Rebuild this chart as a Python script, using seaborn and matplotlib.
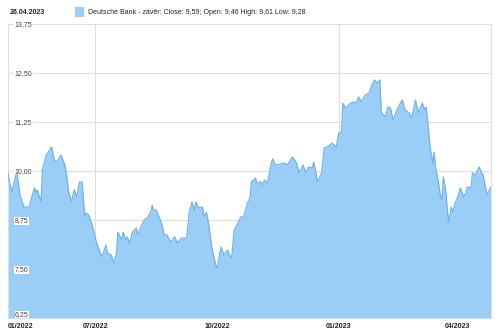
import matplotlib
matplotlib.use("Agg")
import matplotlib.pyplot as plt
import seaborn as sns
import pandas as pd

dates = [
    "2022-04-26", "2022-04-27", "2022-04-29", "2022-05-02", "2022-05-03", "2022-05-05", "2022-05-08",
    "2022-05-12", "2022-05-14", "2022-05-16", "2022-05-17", "2022-05-18", "2022-05-21", "2022-05-22",
    "2022-05-25", "2022-05-29", "2022-05-31", "2022-06-02", "2022-06-05", "2022-06-08", "2022-06-09",
    "2022-06-11", "2022-06-13", "2022-06-15", "2022-06-17", "2022-06-19", "2022-06-21", "2022-06-23",
    "2022-06-24", "2022-06-26", "2022-06-29", "2022-07-02", "2022-07-04", "2022-07-06", "2022-07-09",
    "2022-07-10", "2022-07-13", "2022-07-15", "2022-07-17", "2022-07-18", "2022-07-21", "2022-07-22",
    "2022-07-24", "2022-07-25", "2022-07-27", "2022-07-29", "2022-08-01", "2022-08-02", "2022-08-05",
    "2022-08-07", "2022-08-09", "2022-08-12", "2022-08-13", "2022-08-14", "2022-08-16", "2022-08-20",
    "2022-08-22", "2022-08-24", "2022-08-27", "2022-08-30", "2022-09-01", "2022-09-04", "2022-09-08",
    "2022-09-10", "2022-09-12", "2022-09-14", "2022-09-15", "2022-09-17", "2022-09-20", "2022-09-21",
    "2022-09-23", "2022-09-25", "2022-09-27", "2022-09-30", "2022-10-01", "2022-10-04", "2022-10-06",
    "2022-10-09", "2022-10-11", "2022-10-12", "2022-10-14", "2022-10-16", "2022-10-19", "2022-10-21",
    "2022-10-24", "2022-10-26", "2022-10-27", "2022-10-30", "2022-10-31", "2022-11-03", "2022-11-04",
    "2022-11-06", "2022-11-08", "2022-11-11", "2022-11-12", "2022-11-14", "2022-11-18", "2022-11-21",
    "2022-11-23", "2022-11-27", "2022-11-30", "2022-12-02", "2022-12-05", "2022-12-07", "2022-12-09",
    "2022-12-12", "2022-12-13", "2022-12-16", "2022-12-19", "2022-12-21", "2022-12-23", "2022-12-25",
    "2022-12-27", "2022-12-30", "2023-01-01", "2023-01-03", "2023-01-04", "2023-01-06", "2023-01-07",
    "2023-01-10", "2023-01-12", "2023-01-14", "2023-01-16", "2023-01-18", "2023-01-21", "2023-01-24",
    "2023-01-26", "2023-01-28", "2023-01-30", "2023-02-01", "2023-02-02", "2023-02-05", "2023-02-07",
    "2023-02-09", "2023-02-11", "2023-02-14", "2023-02-17", "2023-02-18", "2023-02-20", "2023-02-23",
    "2023-02-25", "2023-02-28", "2023-03-02", "2023-03-05", "2023-03-07", "2023-03-08", "2023-03-11",
    "2023-03-13", "2023-03-14", "2023-03-15", "2023-03-17", "2023-03-19", "2023-03-20", "2023-03-21",
    "2023-03-23", "2023-03-24", "2023-03-25", "2023-03-27", "2023-03-28", "2023-03-30", "2023-03-31",
    "2023-04-03", "2023-04-05", "2023-04-07", "2023-04-08", "2023-04-11", "2023-04-12", "2023-04-14",
    "2023-04-17", "2023-04-19", "2023-04-20", "2023-04-23", "2023-04-26",
]
close = [
    9.95, 9.72, 9.46, 9.90, 9.90, 9.39, 9.08,
    9.08, 9.34, 9.57, 9.44, 9.52, 9.21, 10.03,
    10.41, 10.61, 10.28, 10.23, 10.41, 10.15, 9.97,
    9.44, 9.21, 9.52, 9.34, 9.72, 9.72, 8.83,
    8.93, 8.88, 8.57, 8.16, 7.98, 7.81, 8.11,
    7.91, 7.86, 7.65, 7.91, 8.44, 8.24, 8.44,
    8.24, 8.32, 8.16, 8.44, 8.55, 8.37, 8.62,
    8.75, 8.80, 8.95, 9.13, 9.00, 9.00, 8.67,
    8.37, 8.37, 8.19, 8.32, 8.16, 8.29, 8.29,
    8.95, 9.21, 9.00, 9.21, 9.06, 9.08, 8.83,
    8.95, 8.57, 8.06, 7.60, 7.53, 8.06, 7.86,
    7.98, 7.81, 7.78, 8.50, 8.62, 8.83, 8.83,
    9.18, 9.34, 9.72, 9.82, 9.69, 9.72, 9.64,
    9.77, 9.69, 10.20, 10.31, 10.15, 10.18, 10.20,
    10.15, 10.36, 10.20, 9.95, 10.15, 9.95, 10.10,
    10.08, 10.23, 9.72, 9.95, 10.59, 10.61, 10.66,
    10.71, 10.61, 10.97, 10.99, 11.73, 11.61, 11.63,
    11.73, 11.76, 11.73, 11.89, 11.76, 11.94, 11.99,
    12.19, 12.32, 12.24, 12.32, 11.50, 11.38, 11.63,
    11.61, 11.30, 11.56, 11.76, 11.81, 11.56, 11.48,
    11.35, 11.81, 11.48, 11.73, 11.56, 11.63, 10.61,
    10.20, 10.48, 10.10, 9.77, 9.31, 9.26, 9.85,
    9.44, 9.00, 8.70, 9.08, 8.95, 9.18, 9.26,
    9.57, 9.34, 9.44, 9.59, 9.57, 9.95, 9.90,
    10.10, 9.95, 9.90, 9.39, 9.59,
]
y_ticks = [6.25, 7.50, 8.75, 10.00, 11.25, 12.50, 13.75]
x_tick_dates = ["2022-04-26", "2022-07-01", "2022-10-01", "2023-01-01", "2023-04-01"]
x_tick_labels = ["01/2022", "07/2022", "10/2022", "01/2023", "04/2023"]
title_date = "26.04.2023"
legend_text = "Deutsche Bank - závěr: Close: 9,59; Open: 9,46 High: 9,61 Low: 9,28"

df = pd.DataFrame({"date": pd.to_datetime(dates), "close": close})

sns.set_theme(style="white")
plt.rcParams["font.family"] = ["Liberation Sans", "DejaVu Sans"]

fill_color = "#9BCEF7"
line_color = "#72B3EC"
grid_color = "#DEDEDE"

fig = plt.figure(figsize=(5.0, 3.32), dpi=100)
ax = fig.add_axes([0.016, 0.042, 0.966, 0.886])

ax.fill_between(df["date"], 6.25, df["close"], color=fill_color, linewidth=0, zorder=2)
sns.lineplot(data=df, x="date", y="close", ax=ax, color=line_color, linewidth=0.9, zorder=3)

ax.set_xlim(pd.Timestamp("2022-04-26"), pd.Timestamp("2023-04-26"))
ax.set_ylim(6.25, 13.75)

ax.set_yticks(y_ticks)
ax.set_yticklabels([f"{v:.2f}".replace(".", ",") for v in y_ticks])
for v in y_ticks:
    ax.axhline(v, color=grid_color, linewidth=0.8, zorder=1)
for d in ["2022-07-01", "2023-01-01"]:
    ax.axvline(pd.Timestamp(d), color=grid_color, linewidth=0.8, zorder=1)

ax.tick_params(axis="y", length=0, pad=-5, labelsize=5, labelcolor="#444444")
for lab in ax.get_yticklabels():
    lab.set_horizontalalignment("left")
    lab.set_bbox(dict(facecolor="white", edgecolor="none", pad=0.6))
    lab.set_zorder(5)
yl = ax.get_yticklabels()
yl[0].set_verticalalignment("bottom")
yl[0].set_bbox(dict(facecolor="white", edgecolor="none", pad=0.3))

ax.set_xticks(pd.to_datetime(x_tick_dates))
ax.set_xticklabels(x_tick_labels)
ax.tick_params(axis="x", length=0, pad=3.5, labelsize=5, labelcolor="#222222")
for lab in ax.get_xticklabels():
    lab.set_fontweight("bold")
xl = ax.get_xticklabels()
xl[0].set_horizontalalignment("left")

ax.set_xlabel("")
ax.set_ylabel("")
for side in ["top", "bottom"]:
    ax.spines[side].set_visible(False)
for side in ["left", "right"]:
    ax.spines[side].set_color(grid_color)
    ax.spines[side].set_linewidth(0.8)
ax.set_axisbelow(False)

fig.text(10 / 500, 1 - 12 / 332, title_date, fontsize=5, fontweight="bold", color="#222222",
         va="center", ha="left")
fig.patches.append(matplotlib.patches.Rectangle((75 / 500, 1 - 17 / 332), 9 / 500, 10 / 332,
                                                transform=fig.transFigure, facecolor=fill_color,
                                                edgecolor="none"))
fig.text(88 / 500, 1 - 12 / 332, legend_text, fontsize=5, color="#222222", va="center", ha="left")

fig.savefig("out.png", dpi=100)
